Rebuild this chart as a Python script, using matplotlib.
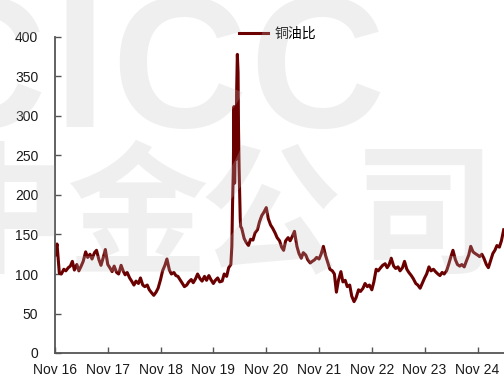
import matplotlib
matplotlib.use("Agg")
import matplotlib.pyplot as plt
import matplotlib.dates as mdates
import numpy as np
import pandas as pd

# Copper / oil price ratio, semi-monthly readings (1st and 15th of each month)
ratio_2016_2020 = [
    124, 138, 101, 100, 106, 104, 108, 110, 116, 105, 112, 104,   # Nov16-Apr17
    110, 116, 128, 121, 125, 119, 127, 130, 118, 111, 121, 131,   # May17-Oct17
    112, 108, 103, 110, 102, 100, 111, 104, 99, 102, 95, 91,      # Nov17-Apr18
    86, 91, 88, 95, 86, 84, 86, 80, 76, 73, 77, 82,               # May18-Oct18
    93, 104, 111, 119, 105, 100, 102, 98, 97, 93, 88, 84,         # Nov18-Apr19
    86, 90, 93, 89, 94, 100, 94, 91, 97, 92, 98, 93,              # May19-Oct19
    88, 92, 95, 90, 91, 100, 97, 108,                             # Nov19-Feb20
]

# March-May 2020 oil crash, finer sampling
crash_dates = [
    "2020-03-01", "2020-03-08", "2020-03-13", "2020-03-18", "2020-03-23",
    "2020-03-27", "2020-04-01", "2020-04-06", "2020-04-10", "2020-04-15",
    "2020-04-20", "2020-04-23", "2020-04-27", "2020-05-01", "2020-05-05",
    "2020-05-08",
]
crash_ratio = [112, 135, 190, 230, 312, 215, 265, 245, 330, 378,
               355, 285, 235, 200, 170, 160]

ratio_2020_2025 = [
    158,                                                          # May20 (15th)
    145, 140, 136, 144, 143, 152, 156, 166, 174, 178,             # Jun20-Oct20
    184, 170, 162, 158, 152, 146, 142, 134, 130, 142, 146, 142,   # Nov20-Apr21
    148, 154, 135, 126, 120, 127, 124, 118, 114, 116, 118, 121,   # May21-Oct21
    119, 125, 135, 124, 114, 106, 104, 100, 77, 92, 103, 90,      # Nov21-Apr22
    92, 84, 86, 72, 65, 70, 80, 78, 82, 88, 84, 86,               # May22-Oct22
    80, 90, 106, 104, 108, 111, 113, 108, 112, 120, 110, 107,     # Nov22-Apr23
    109, 104, 108, 116, 106, 102, 98, 94, 88, 86, 82, 88,         # May23-Oct23
    95, 100, 109, 104, 106, 103, 100, 98, 102, 100, 104, 112,     # Nov23-Apr24
    122, 130, 118, 112, 110, 112, 109, 116, 124, 135, 128, 126,   # May24-Oct24
    124, 122, 125, 120, 112, 108, 118, 126, 130, 136, 134, 142,   # Nov24-Apr25
    156,                                                          # May25
]

series_name = "铜油比"
tick_years = list(range(2016, 2025))
y_ticks = [0, 50, 100, 150, 200, 250, 300, 350, 400]

dates_a = pd.date_range("2016-11-01", periods=len(ratio_2016_2020), freq="SMS")
dates_b = pd.to_datetime(crash_dates)
dates_c = pd.date_range("2020-05-15", periods=len(ratio_2020_2025), freq="SMS")
dates = dates_a.append(dates_b).append(dates_c)
values = np.array(ratio_2016_2020 + crash_ratio + ratio_2020_2025, dtype=float)

W, H = 504, 381
fig = plt.figure(figsize=(W / 100, H / 100), dpi=100)
fig.patch.set_facecolor("white")

ax = fig.add_axes([55 / W, 28 / H, (W - 55) / W, (353 - 37) / H])
ax.plot(dates, values, color="#6b0000", lw=2.2, solid_joinstyle="round",
        label=series_name)

ax.set_ylim(0, 400)
ax.set_yticks(y_ticks)
ax.set_xlim(pd.Timestamp("2016-11-01"), pd.Timestamp("2025-05-03"))
ax.set_xticks([pd.Timestamp(f"{y}-11-01") for y in tick_years])
ax.xaxis.set_major_formatter(mdates.DateFormatter("Nov %y"))

for side in ("top", "right"):
    ax.spines[side].set_visible(False)
for side in ("left", "bottom"):
    ax.spines[side].set_color("#555555")
    ax.spines[side].set_linewidth(1.3)

ax.tick_params(direction="in", length=4, width=1, color="#555555",
               labelcolor="#1a1a1a", labelsize=10)
ax.tick_params(axis="y", pad=12)
ax.tick_params(axis="x", pad=7)
for lab in ax.get_xticklabels() + ax.get_yticklabels():
    lab.set_fontfamily("Liberation Sans")

leg = ax.legend(loc="center", bbox_to_anchor=(277.5 / W, 1 - 34 / H),
                bbox_transform=fig.transFigure, frameon=False,
                handlelength=2.1, handletextpad=0.5,
                prop={"family": ["Noto Sans CJK SC", "DejaVu Sans"], "size": 10})

# Company watermark over the plot
wm = dict(color="#bfbfbf", alpha=0.24, zorder=10, fontweight="bold")
for ch, cx in zip("CICC", [-22, 80, 179, 317]):
    fig.text(cx / W, 1 - 127 / H, ch, ha="center", va="baseline",
             fontsize=135, family="Liberation Sans", **wm)
for ch, cx in zip("中金公司", [-5, 137, 270, 425]):
    fig.text(cx / W, 1 - 220 / H, ch, ha="center", va="center",
             fontsize=102, family="Noto Sans CJK SC", **wm)

fig.savefig("out.png", dpi=100)
